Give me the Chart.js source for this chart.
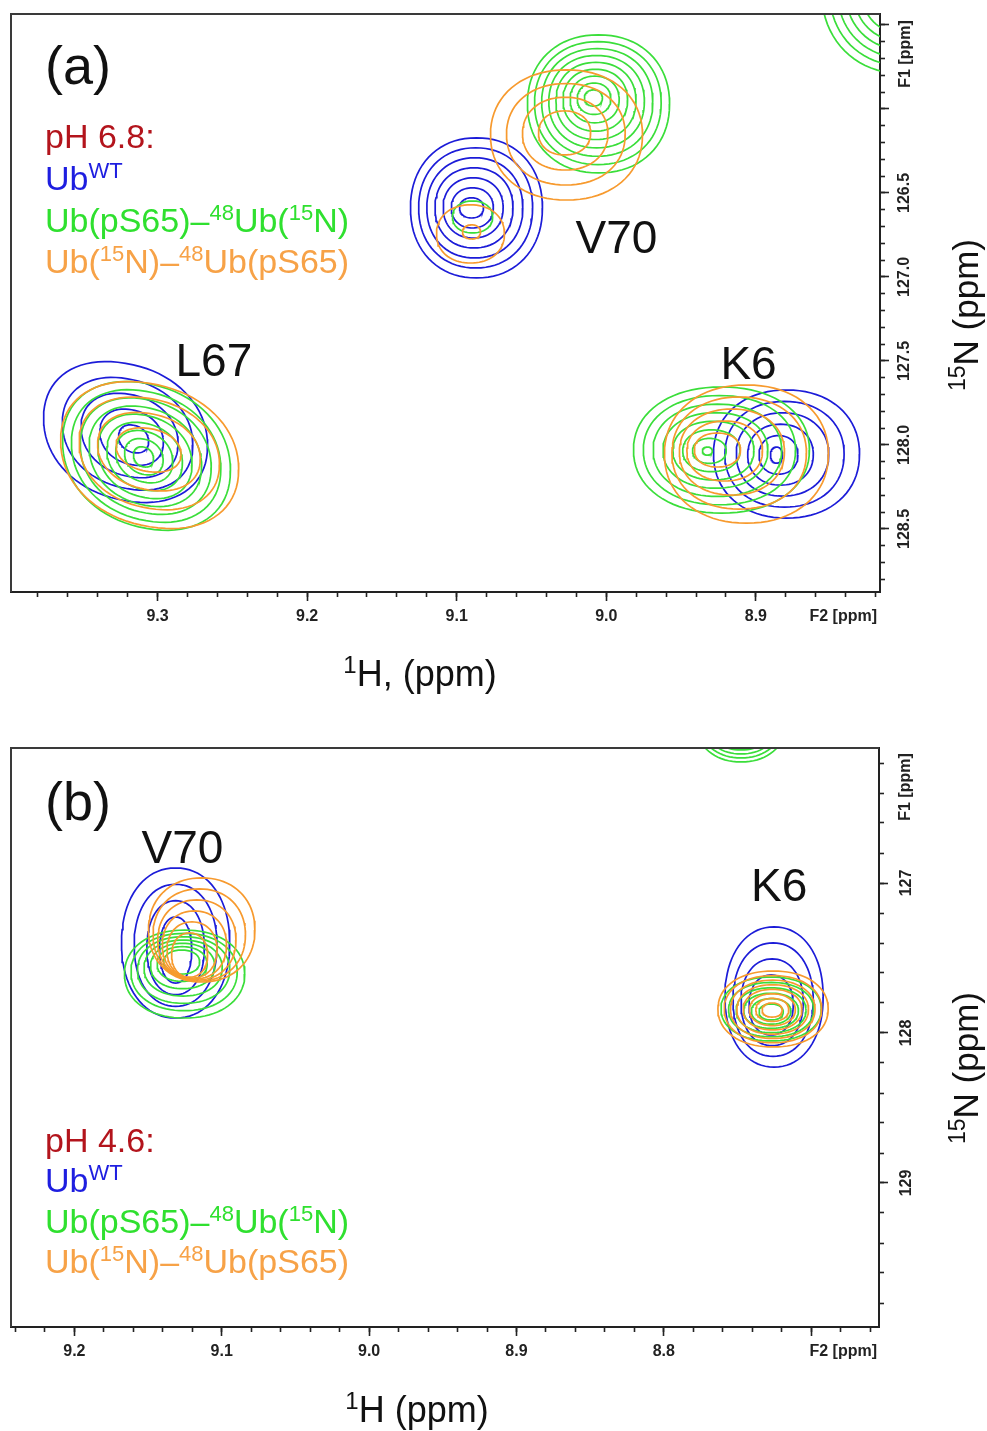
<!DOCTYPE html>
<html>
<head>
<meta charset="utf-8">
<script src="https://cdn.jsdelivr.net/npm/chart.js@4.4.0/dist/chart.umd.min.js"></script>
<style>
  html, body { margin: 0; padding: 0; background: #fff; }
  #wrap { position: relative; width: 987px; height: 1431px; }
  canvas { position: absolute; left: 0; }
  #cA { top: 0; }
  #cB { top: 700px; }
</style>
</head>
<body>
<div id="wrap">
  <canvas id="cA" width="987" height="700"></canvas>
  <canvas id="cB" width="987" height="731"></canvas>
</div>
<script>
const FONT = '"Liberation Sans", Arial, Helvetica, sans-serif';

// axis extents in ppm (min, max)
const hRangeA = [8.817, 9.398];
const nRangeA = [125.435, 128.875];
const hRangeB = [8.654, 9.243];
const nRangeB = [126.10, 129.96];

// labelled ticks
const hTicksA = [9.3, 9.2, 9.1, 9.0, 8.9];
const nTicksA = [126.5, 127.0, 127.5, 128.0, 128.5];
const hTicksB = [9.2, 9.1, 9.0, 8.9, 8.8];
const nTicksB = [127, 128, 129];

// cross peaks, one row per peak:
// [1H, 15N, half-width 1H, half-width 15N,   (outermost contour)
//  1H, 15N, half-width 1H, half-width 15N,   (innermost contour)
//  number of contour levels, tilt]
const wtA = [
  [9.0868, 126.589, 0.0441, 0.417, 9.0901, 126.589, 0.0080, 0.060, 7, 0],    // V70
  [9.3214, 127.923, 0.0548, 0.417, 9.3160, 127.964, 0.0100, 0.083, 5, 0.2],  // L67
  [8.8795, 128.054, 0.0488, 0.381, 8.8862, 128.060, 0.0040, 0.048, 6, 0]     // K6
];
const donorA = [
  [9.0894, 126.643, 0.0134, 0.095, 9.0894, 126.643, 0.0134, 0.095, 1, 0],
  [9.0052, 125.970, 0.0475, 0.411, 9.0086, 125.935, 0.0060, 0.048, 9, 0],    // V70
  [8.8000, 125.292, 0.0561, 0.500, 8.8000, 125.292, 0.0294, 0.262, 6, 0],
  [9.3074, 128.065, 0.0561, 0.440, 9.3094, 128.071, 0.0067, 0.060, 9, 0.2],  // L67
  [8.9230, 128.030, 0.0588, 0.375, 8.9324, 128.036, 0.0033, 0.024, 8, 0]     // K6
];
const acceptorA = [
  [9.0908, 126.744, 0.0227, 0.173, 9.0901, 126.732, 0.0060, 0.042, 2, 0],
  [9.0266, 126.155, 0.0508, 0.387, 9.0279, 126.143, 0.0174, 0.131, 4, 0],    // V70
  [9.3053, 128.060, 0.0595, 0.435, 9.3060, 128.030, 0.0217, 0.131, 4, 0.2],  // L67
  [8.9063, 128.054, 0.0548, 0.411, 8.9257, 128.030, 0.0154, 0.101, 5, 0]     // K6
];
const wtB = [
  [9.1313, 127.400, 0.0367, 0.500, 9.1313, 127.447, 0.0109, 0.220, 4, 0],    // V70
  [8.7252, 127.760, 0.0333, 0.467, 8.7272, 127.813, 0.0150, 0.200, 4, 0]     // K6
];
const donorB = [
  [9.1252, 127.607, 0.0408, 0.293, 9.1272, 127.527, 0.0122, 0.080, 7, 0],    // V70
  [8.7272, 127.840, 0.0340, 0.213, 8.7272, 127.860, 0.0082, 0.053, 6, 0],    // K6
  [8.7476, 125.880, 0.0327, 0.313, 8.7476, 125.880, 0.0245, 0.233, 4, 0]
];
const acceptorB = [
  [9.1136, 127.313, 0.0361, 0.347, 9.1218, 127.480, 0.0122, 0.147, 6, 0],    // V70
  [8.7259, 127.840, 0.0374, 0.253, 8.7265, 127.847, 0.0068, 0.047, 8, 0]     // K6
];

// residue labels: [text, 1H, 15N] (left edge / baseline)
const labelsA = [['V70', 9.0206, 126.857], ['L67', 9.288, 127.589], ['K6', 8.9237, 127.607]];
const labelsB = [['V70', 9.1544, 126.867], ['K6', 8.7408, 127.12]];

// legend entries, [text, superscript?]
const seriesNames = [
  [['Ub', 0], ['WT', 1]],
  [['Ub(pS65)–', 0], ['48', 1], ['Ub(', 0], ['15', 1], ['N)', 0]],
  [['Ub(', 0], ['15', 1], ['N)–', 0], ['48', 1], ['Ub(pS65)', 0]]
];

const COLORS = { wt: '#1c1cd8', donor: '#3ade3a', acceptor: '#f79a2e' };
const TEXT_COLORS = ['#b3141c', '#1e1ee0', '#2fe02f', '#f7a247'];
const SHAPE = 2.15; // contour squareness (2 = ellipse)

// closed contour lines for one peak, in ppm
function contours(row) {
  const [h, n, wh, wn, hi, ni, whi, wni, levels, tilt] = row;
  const norm = Math.sqrt(1 + tilt * tilt);
  const e = 2 / SHAPE;
  const out = [];
  for (let k = 0; k < levels; k++) {
    const t = levels > 1 ? k / (levels - 1) : 0;
    const ch = h + (hi - h) * t, cn = n + (ni - n) * t;
    const rh = wh + (whi - wh) * t, rn = wn + (wni - wn) * t;
    const pts = [];
    for (let i = 0; i <= 80; i++) {
      const a = i / 80 * Math.PI * 2;
      const c = Math.cos(a), s = Math.sin(a);
      const u = Math.sign(c) * Math.pow(Math.abs(c), e);
      const w = Math.sign(s) * Math.pow(Math.abs(s), e);
      const v = (w + tilt * u) / norm;
      pts.push({ x: ch - rh * u, y: cn + rn * v });
    }
    out.push(pts);
  }
  return out;
}

function rich(ctx, segs, x, y, size, color, align) {
  const sup = Math.round(size * 0.66);
  let w = 0;
  segs.forEach(([t, s]) => {
    ctx.font = (s ? sup : size) + 'px ' + FONT;
    w += ctx.measureText(t).width;
  });
  let cx = align === 'center' ? x - w / 2 : align === 'right' ? x - w : x;
  ctx.fillStyle = color;
  ctx.textAlign = 'left';
  ctx.textBaseline = 'alphabetic';
  segs.forEach(([t, s]) => {
    ctx.font = (s ? sup : size) + 'px ' + FONT;
    ctx.fillText(t, cx, s ? y - size * 0.36 : y);
    cx += ctx.measureText(t).width;
  });
}

function near(list, v) {
  return list.some(t => Math.abs(t - v) < 1e-6);
}

function panel(canvasId, p) {
  const datasets = [];
  [[p.wt, COLORS.wt, 3], [p.donor, COLORS.donor, 2], [p.acceptor, COLORS.acceptor, 1]].forEach(([rows, color, order]) => {
    rows.forEach(row => contours(row).forEach(pts => {
      datasets.push({
        data: pts, showLine: true, pointRadius: 0, borderColor: color,
        borderWidth: 1.7, tension: 0, order: order
      });
    }));
  });

  const tickFont = { family: FONT, size: 16, weight: 'bold' };
  const tickGrid = len => ({ drawOnChartArea: false, tickLength: len, tickWidth: 1.6, tickColor: '#222' });

  const annotate = {
    id: 'annotate',
    afterDraw(chart) {
      const ctx = chart.ctx, a = chart.chartArea;
      const sx = chart.scales.x, sy = chart.scales.y;
      ctx.save();
      // frame: top and left
      ctx.strokeStyle = '#3a3a3a';
      ctx.lineWidth = 2;
      ctx.beginPath();
      ctx.moveTo(a.right, a.top);
      ctx.lineTo(a.left, a.top);
      ctx.lineTo(a.left, a.bottom);
      ctx.stroke();

      // panel letter
      ctx.fillStyle = '#111';
      ctx.font = '54px ' + FONT;
      ctx.textAlign = 'left';
      ctx.textBaseline = 'alphabetic';
      ctx.fillText(p.letter, 45, p.letterY);

      // residue names
      ctx.font = '46px ' + FONT;
      p.labels.forEach(([t, h, n]) => {
        ctx.fillText(t, sx.getPixelForValue(h), sy.getPixelForValue(n));
      });

      // legend
      rich(ctx, [[p.ph, 0]], 45, p.legendY[0], 34, TEXT_COLORS[0], 'left');
      seriesNames.forEach((segs, i) => rich(ctx, segs, 45, p.legendY[i + 1], 34, TEXT_COLORS[i + 1], 'left'));

      // axis titles
      rich(ctx, p.hTitle, p.hTitleX, p.hTitleY, 36, '#111', 'center');
      ctx.save();
      ctx.translate(978, p.nTitleY);
      ctx.rotate(-Math.PI / 2);
      rich(ctx, [['15', 1], ['N (ppm)', 0]], 0, 0, 35, '#111', 'center');
      ctx.restore();

      // F1 / F2 unit labels
      ctx.fillStyle = '#222';
      ctx.font = 'bold 16px ' + FONT;
      ctx.textBaseline = 'middle';
      ctx.textAlign = 'right';
      ctx.fillText('F2 [ppm]', 877, p.f2Y);
      ctx.save();
      ctx.translate(906, p.f1Y);
      ctx.rotate(-Math.PI / 2);
      ctx.textAlign = 'center';
      ctx.fillText('F1 [ppm]', 0, 0);
      ctx.restore();
      ctx.restore();
    }
  };

  return new Chart(document.getElementById(canvasId), {
    type: 'scatter',
    data: { datasets },
    options: {
      responsive: false,
      animation: false,
      events: [],
      layout: { padding: { left: 11, top: p.top, right: 0, bottom: 0 } },
      plugins: { legend: { display: false }, tooltip: { enabled: false } },
      scales: {
        x: {
          type: 'linear', position: 'bottom', reverse: true, weight: 1,
          min: p.hRange[0], max: p.hRange[1],
          ticks: {
            stepSize: 0.1, includeBounds: false, autoSkip: false, maxRotation: 0,
            padding: 6, color: '#222', font: tickFont,
            callback: v => near(p.hTicks, v) ? v.toFixed(1) : ''
          },
          grid: tickGrid(9),
          border: { display: true, color: '#222', width: 2 },
          afterFit: s => { s.height = p.xAxisH; }
        },
        xm: {
          type: 'linear', position: 'bottom', reverse: true, weight: 0,
          min: p.hRange[0], max: p.hRange[1],
          ticks: { stepSize: 0.02, includeBounds: false, display: false },
          grid: tickGrid(5),
          border: { display: false },
          afterFit: s => { s.height = 0; }
        },
        y: {
          type: 'linear', position: 'right', reverse: true, weight: 1,
          min: p.nRange[0], max: p.nRange[1],
          ticks: {
            stepSize: p.nStep, includeBounds: false, autoSkip: false,
            minRotation: 90, maxRotation: 90, crossAlign: 'center',
            padding: p.yPad, color: '#222', font: tickFont,
            callback: v => near(p.nTicks, v) ? v.toFixed(p.nDigits) : ''
          },
          grid: tickGrid(9),
          border: { display: true, color: '#222', width: 2 },
          afterFit: s => { s.width = p.yAxisW; }
        },
        ym: {
          type: 'linear', position: 'right', reverse: true, weight: 0,
          min: p.nRange[0], max: p.nRange[1],
          ticks: { stepSize: p.nMinor, includeBounds: false, display: false },
          grid: tickGrid(5),
          border: { display: false },
          afterFit: s => { s.width = 0; }
        }
      }
    },
    plugins: [annotate]
  });
}

panel('cA', {
  wt: wtA, donor: donorA, acceptor: acceptorA, labels: labelsA,
  hRange: hRangeA, nRange: nRangeA, hTicks: hTicksA, nTicks: nTicksA,
  nStep: 0.5, nMinor: 0.1, nDigits: 1, yPad: -4,
  top: 14, xAxisH: 108, yAxisW: 107,
  letter: '(a)', letterY: 84, ph: 'pH 6.8:', legendY: [148, 190, 232, 273],
  hTitle: [['1', 1], ['H, (ppm)', 0]], hTitleX: 420, hTitleY: 686,
  nTitleY: 315, f1Y: 54, f2Y: 617
});

panel('cB', {
  wt: wtB, donor: donorB, acceptor: acceptorB, labels: labelsB,
  hRange: hRangeB, nRange: nRangeB, hTicks: hTicksB, nTicks: nTicksB,
  nStep: 1, nMinor: 0.2, nDigits: 0, yPad: 5,
  top: 48, xAxisH: 104, yAxisW: 108,
  letter: '(b)', letterY: 120, ph: 'pH 4.6:', legendY: [452, 492, 533, 573],
  hTitle: [['1', 1], ['H (ppm)', 0]], hTitleX: 417, hTitleY: 722,
  nTitleY: 368, f1Y: 87, f2Y: 652
});
</script>
</body>
</html>
